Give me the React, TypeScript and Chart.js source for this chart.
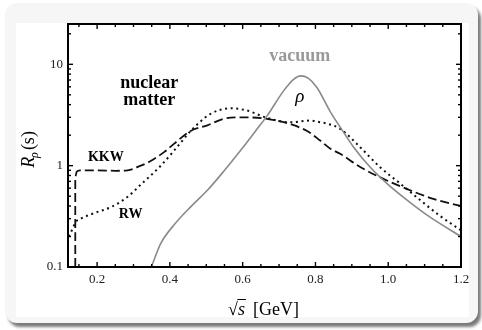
import React, { useEffect, useRef } from "react";
import { Chart, registerables } from "chart.js";

Chart.register(...registerables);

// ---- data ----
const xTicks = [0.2, 0.4, 0.6, 0.8, 1.0, 1.2];
const xTickLabels = ["0.2", "0.4", "0.6", "0.8", "1.0", "1.2"];
const yTicks = [0.1, 1, 10];
const yTickLabels = ["0.1", "1", "10"];

const vacuumX = [0.349, 0.375, 0.411, 0.457, 0.503, 0.548, 0.594, 0.64, 0.667, 0.713, 0.74, 0.759, 0.78, 0.804, 0.841, 0.868, 0.905, 0.95, 0.996, 1.051, 1.115, 1.2];
const vacuumY = [0.1, 0.171, 0.259, 0.392, 0.571, 0.88, 1.41, 2.31, 3.1, 5.5, 7.1, 7.7, 7.3, 5.9, 3.4, 2.4, 1.52, 0.97, 0.67, 0.46, 0.31, 0.2];

const kkwX = [0.14, 0.14, 0.144, 0.153, 0.2, 0.25, 0.284, 0.32, 0.347, 0.384, 0.411, 0.457, 0.503, 0.548, 0.594, 0.658, 0.7, 0.731, 0.777, 0.813, 0.841, 0.868, 0.923, 0.977, 1.051, 1.124, 1.2];
const kkwY = [0.1, 0.78, 0.87, 0.9, 0.9, 0.89, 0.9, 1.0, 1.11, 1.36, 1.64, 2.2, 2.5, 2.9, 3.0, 2.93, 2.75, 2.57, 2.2, 1.77, 1.47, 1.31, 0.97, 0.77, 0.59, 0.47, 0.4];

const rwX = [0.122, 0.128, 0.142, 0.155, 0.192, 0.238, 0.283, 0.32, 0.375, 0.411, 0.457, 0.475, 0.512, 0.567, 0.612, 0.667, 0.731, 0.786, 0.813, 0.832, 0.868, 0.923, 0.977, 1.032, 1.087, 1.142, 1.2];
const rwY = [0.2, 0.22, 0.28, 0.3, 0.34, 0.39, 0.49, 0.65, 1.0, 1.4, 2.2, 2.55, 3.25, 3.68, 3.5, 2.96, 2.68, 2.79, 2.68, 2.6, 2.31, 1.52, 0.97, 0.67, 0.46, 0.32, 0.23];

const SERIF = "'Liberation Serif', 'DejaVu Serif', serif";

const notes = [
  { text: "nuclear", x: 0.343, y: 6.55, font: `bold 18px ${SERIF}`, color: "#000" },
  { text: "matter", x: 0.343, y: 4.39, font: `bold 18px ${SERIF}`, color: "#000" },
  { text: "vacuum", x: 0.757, y: 11.9, font: `bold 18px ${SERIF}`, color: "#999" },
  { text: "ρ", x: 0.757, y: 4.73, font: `italic 19px ${SERIF}`, color: "#000" },
  { text: "KKW", x: 0.224, y: 1.22, font: `bold 14px ${SERIF}`, color: "#000" },
  { text: "RW", x: 0.292, y: 0.33, font: `bold 14px ${SERIF}`, color: "#000" },
];

const pts = (xs: number[], ys: number[]) => xs.map((x, i) => ({ x, y: ys[i] }));

const framePlugin = {
  id: "frame",
  afterDatasetsDraw(chart: any) {
    const { ctx, chartArea: a, scales } = chart;
    const xs = scales.x;
    const ys = scales.y;
    ctx.save();
    ctx.strokeStyle = "#000";
    ctx.lineWidth = 1.4;
    const line = (x1: number, y1: number, x2: number, y2: number) => {
      ctx.beginPath();
      ctx.moveTo(x1, y1);
      ctx.lineTo(x2, y2);
      ctx.stroke();
    };
    for (let k = 3; k <= 24; k++) {
      const v = k * 0.05;
      if (v < xs.min || v > xs.max + 1e-9) continue;
      const major = xTicks.some((t) => Math.abs(t - v) < 1e-9);
      const len = major ? 5 : 3;
      const px = xs.getPixelForValue(v);
      line(px, a.bottom, px, a.bottom - len);
      line(px, a.top, px, a.top + len);
    }
    for (const dec of [0.1, 1, 10]) {
      for (let m = 1; m <= 9; m++) {
        const v = dec * m;
        if (v < ys.min - 1e-9 || v > ys.max) continue;
        const len = m === 1 ? 5 : 3;
        const py = ys.getPixelForValue(v);
        line(a.left, py, a.left + len, py);
        line(a.right, py, a.right - len, py);
      }
    }
    ctx.lineWidth = 2;
    ctx.strokeRect(a.left, a.top, a.right - a.left, a.bottom - a.top);

    ctx.textAlign = "center";
    ctx.textBaseline = "middle";
    for (const n of notes) {
      ctx.font = n.font;
      ctx.fillStyle = n.color;
      ctx.fillText(n.text, xs.getPixelForValue(n.x), ys.getPixelForValue(n.y));
    }

    // y title: R_rho(s)
    ctx.save();
    ctx.translate(28, (a.top + a.bottom) / 2 + 4);
    ctx.rotate(-Math.PI / 2);
    ctx.fillStyle = "#000";
    ctx.textBaseline = "alphabetic";
    ctx.textAlign = "left";
    const fR = `italic 18px ${SERIF}`;
    const fSub = `italic 12px ${SERIF}`;
    const fN = `18px ${SERIF}`;
    ctx.font = fR;
    const wR = ctx.measureText("R").width;
    ctx.font = fSub;
    const wSub = ctx.measureText("ρ").width;
    ctx.font = fN;
    const wS = ctx.measureText("(s)").width;
    const total = wR + wSub + 1 + wS;
    let cx = -total / 2;
    const base = 6;
    ctx.font = fR;
    ctx.fillText("R", cx, base);
    cx += wR;
    ctx.font = fSub;
    ctx.fillText("ρ", cx - 1, base + 4);
    cx += wSub + 1;
    ctx.font = fN;
    ctx.fillText("(s)", cx, base);
    ctx.restore();

    // x title: sqrt(s) [GeV]
    ctx.save();
    ctx.fillStyle = "#000";
    ctx.strokeStyle = "#000";
    ctx.textBaseline = "alphabetic";
    ctx.textAlign = "left";
    const fRad = `18px ${SERIF}`;
    const fS = `italic 18px ${SERIF}`;
    ctx.font = fRad;
    const wRad = ctx.measureText("√").width;
    ctx.font = fS;
    const wsS = ctx.measureText("s").width;
    ctx.font = fN;
    const wG = ctx.measureText("[GeV]").width;
    const gap = 8;
    const tot = wRad + wsS + gap + wG;
    let tx = (a.left + a.right) / 2 - tot / 2 - 1;
    const by = 315;
    ctx.font = fRad;
    ctx.fillText("√", tx, by);
    tx += wRad;
    ctx.font = fS;
    ctx.fillText("s", tx, by);
    ctx.lineWidth = 1;
    line(tx - 0.5, by - 15.5, tx + wsS + 1, by - 15.5);
    tx += wsS + gap;
    ctx.font = fN;
    ctx.fillText("[GeV]", tx, by);
    ctx.restore();

    ctx.restore();
  },
};

export default function App() {
  const ref = useRef<HTMLCanvasElement | null>(null);

  useEffect(() => {
    if (!ref.current) return;
    const chart = new Chart(ref.current, {
      type: "line",
      data: {
        datasets: [
          {
            label: "vacuum",
            data: pts(vacuumX, vacuumY),
            borderColor: "#8a8a8a",
            borderWidth: 1.6,
            pointRadius: 0,
            cubicInterpolationMode: "monotone",
            fill: false,
          },
          {
            label: "KKW",
            data: pts(kkwX, kkwY),
            borderColor: "#111",
            borderWidth: 1.8,
            borderDash: [9, 4],
            pointRadius: 0,
            cubicInterpolationMode: "monotone",
            fill: false,
          },
          {
            label: "RW",
            data: pts(rwX, rwY),
            borderColor: "#111",
            borderWidth: 2,
            borderDash: [2, 3.6],
            pointRadius: 0,
            cubicInterpolationMode: "monotone",
            fill: false,
          },
        ],
      } as any,
      options: {
        responsive: false,
        animation: false,
        devicePixelRatio: 1,
        layout: { padding: { top: 24, right: 21, left: 0, bottom: 0 } },
        plugins: { legend: { display: false }, tooltip: { enabled: false } },
        scales: {
          x: {
            type: "linear",
            min: 0.12,
            max: 1.2,
            grid: { display: false, drawTicks: false },
            border: { display: false },
            afterBuildTicks: (s: any) => {
              s.ticks = xTicks.map((v) => ({ value: v }));
            },
            afterFit: (s: any) => {
              s.height = 63;
            },
            ticks: {
              autoSkip: false,
              maxRotation: 0,
              padding: 5,
              color: "#222",
              font: { family: SERIF, size: 13 },
              callback: (v: any) => {
                const i = xTicks.findIndex((t) => Math.abs(t - Number(v)) < 1e-9);
                return i >= 0 ? xTickLabels[i] : "";
              },
            },
          },
          y: {
            type: "logarithmic",
            min: 0.1,
            max: 25,
            grid: { display: false, drawTicks: false },
            border: { display: false },
            afterBuildTicks: (s: any) => {
              s.ticks = yTicks.map((v) => ({ value: v }));
            },
            afterFit: (s: any) => {
              s.width = 68;
            },
            ticks: {
              autoSkip: false,
              padding: 5,
              color: "#222",
              font: { family: SERIF, size: 13 },
              callback: (v: any) => {
                const i = yTicks.findIndex((t) => Math.abs(t - Number(v)) < 1e-9);
                return i >= 0 ? yTickLabels[i] : "";
              },
            },
          },
        },
      } as any,
      plugins: [framePlugin],
    });
    return () => chart.destroy();
  }, []);

  return (
    <div style={{ position: "fixed", left: 0, top: 0, width: 482, height: 330, background: "#fff", overflow: "hidden" }}>
      <div
        style={{
          position: "absolute",
          left: 5,
          top: 3,
          width: 473,
          height: 320,
          background: "#f6f6f6",
          borderRadius: 12,
          boxShadow: "3px 4px 3px #7a7a7a",
        }}
      />
      <div style={{ position: "absolute", left: 16, top: 23, width: 453, height: 294, background: "#fff" }} />
      <canvas ref={ref} width={482} height={330} style={{ position: "absolute", left: 0, top: 0 }} />
    </div>
  );
}
